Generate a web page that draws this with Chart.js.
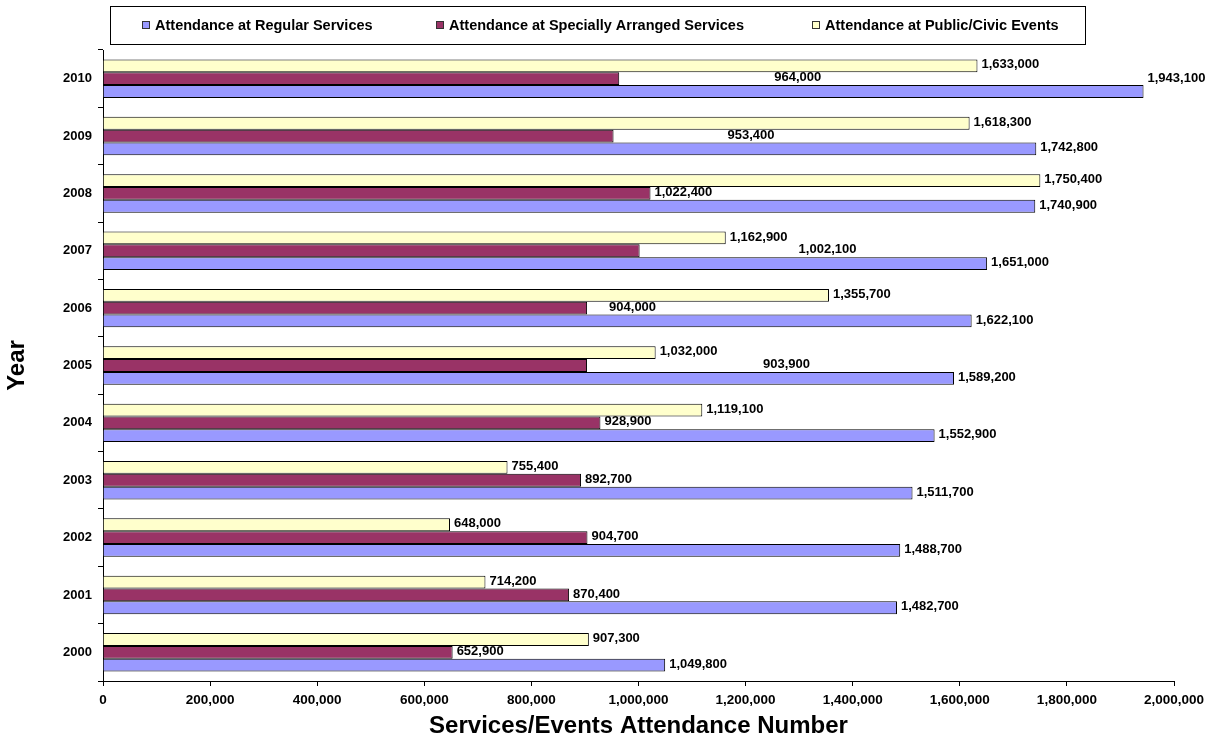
<!DOCTYPE html>
<html>
<head>
<meta charset="utf-8">
<title>Services/Events Attendance</title>
<script src="https://cdn.jsdelivr.net/npm/chart.js@4.4.1/dist/chart.umd.min.js"></script>
<style>
  html, body { margin: 0; padding: 0; background: #fff; }
  #wrap { width: 1215px; height: 740px; }
</style>
</head>
<body>
<div id="wrap"><canvas id="chart" width="1215" height="740"></canvas></div>
<script>
"use strict";

// data, 2000 -> 2010
const years = ["2000", "2001", "2002", "2003", "2004", "2005", "2006", "2007", "2008", "2009", "2010"];
const regularServices = [1049800, 1482700, 1488700, 1511700, 1552900, 1589200, 1622100, 1651000, 1740900, 1742800, 1943100];
const speciallyArranged = [652900, 870400, 904700, 892700, 928900, 903900, 904000, 1002100, 1022400, 953400, 964000];
const publicCivic = [907300, 714200, 648000, 755400, 1119100, 1032000, 1355700, 1162900, 1750400, 1618300, 1633000];
const xMax = 2000000;
const xStep = 200000;

// label nudges (px) - the original had some labels dragged around
const specialLabelShift = [0, 0, 0, 0, 0, 172, 18, 155, 0, 110, 151];
const regularLabelLift = [0, 0, 0, 0, 0, 0, 0, 0, 0, 0, 12];

const FONT = "'Liberation Sans', Arial, sans-serif";
const fmt = (v) => v.toLocaleString("en-US");

const series = [
  { key: "regular", label: "Attendance at Regular Services", data: regularServices, color: "#9999FF" },
  { key: "special", label: "Attendance at Specially Arranged Services", data: speciallyArranged, color: "#993366" },
  { key: "public", label: "Attendance at Public/Civic Events", data: publicCivic, color: "#FFFFCC" },
];
const legendX = [142, 436, 812];

//legend box drawn by hand, the built-in one has no frame
const legendBox = {
  id: "legendBox",
  afterDraw(chart) {
    const ctx = chart.ctx;
    ctx.save();
    ctx.strokeStyle = "#000";
    ctx.lineWidth = 1;
    ctx.strokeRect(110.5, 6.5, 975, 38);
    ctx.font = "bold 14.5px " + FONT;
    ctx.textBaseline = "middle";
    ctx.textAlign = "left";
    series.forEach((s, i) => {
      const x = legendX[i];
      ctx.fillStyle = s.color;
      ctx.fillRect(x, 21, 8, 8);
      ctx.strokeStyle = "#333";
      ctx.strokeRect(x + 0.5, 21.5, 7, 7);
      ctx.fillStyle = "#000";
      ctx.fillText(s.label, x + 13, 25.5);
    });
    ctx.restore();
  },
};

//value labels at the end of each bar
const barLabels = {
  id: "barLabels",
  afterDatasetsDraw(chart) {
    const ctx = chart.ctx;
    ctx.save();
    ctx.font = "bold 13px " + FONT;
    ctx.fillStyle = "#000";
    ctx.textBaseline = "middle";
    ctx.textAlign = "left";
    chart.data.datasets.forEach((ds, di) => {
      const meta = chart.getDatasetMeta(di);
      meta.data.forEach((bar, i) => {
        let dx = 4;
        let dy = -1;
        if (ds.key === "special") dx += specialLabelShift[i];
        if (ds.key === "regular") dy -= regularLabelLift[i];
        ctx.fillText(fmt(ds.data[i]), bar.x + dx, bar.y + dy);
      });
    });
    ctx.restore();
  },
};

// bars inside a group go top->bottom in dataset order, so public first
const datasets = series
  .slice()
  .reverse()
  .map((s) => ({
    key: s.key,
    label: s.label,
    data: s.data,
    backgroundColor: s.color,
    borderColor: "#000",
    borderWidth: 1,
    categoryPercentage: 0.67,
    barPercentage: 1.0,
  }));

const chart = new Chart(document.getElementById("chart"), {
  type: "bar",
  data: { labels: years, datasets: datasets },
  options: {
    indexAxis: "y",
    responsive: false,
    animation: false,
    layout: { padding: { top: 50, right: 41, left: 0, bottom: 0 } },
    plugins: {
      legend: { display: false },
      tooltip: { enabled: false },
    },
    scales: {
      y: {
        reverse: true,
        grid: { drawOnChartArea: false, drawTicks: true, tickLength: 5, color: "#000" },
        border: { color: "#000", width: 1 },
        ticks: { color: "#000", padding: 6, font: { family: FONT, size: 13, weight: "bold" } },
        title: {
          display: true,
          text: "Year",
          color: "#000",
          font: { family: FONT, size: 24, weight: "bold" },
          padding: { top: 3, bottom: 0 },
        },
        afterFit: (scale) => {
          scale.width = 103;
        },
      },
      x: {
        min: 0,
        max: xMax,
        grid: { drawOnChartArea: false, drawTicks: true, tickLength: 5, color: "#000" },
        border: { color: "#000", width: 1 },
        ticks: {
          stepSize: xStep,
          color: "#000",
          padding: 6,
          maxRotation: 0,
          font: { family: FONT, size: 13.5, weight: "bold" },
          callback: (v) => fmt(v),
        },
        title: {
          display: true,
          text: "Services/Events Attendance Number",
          color: "#000",
          font: { family: FONT, size: 24, weight: "bold" },
          padding: { top: 0, bottom: -1 },
        },
        afterFit: (scale) => {
          scale.height = 59;
        },
      },
    },
  },
  plugins: [legendBox, barLabels],
});
</script>
</body>
</html>
